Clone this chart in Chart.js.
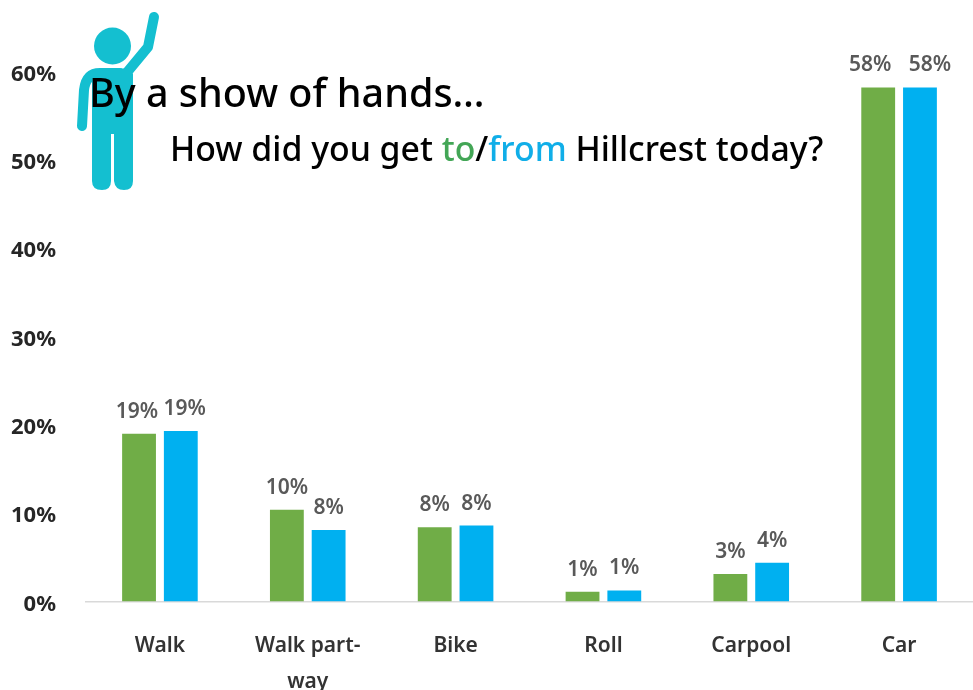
<!DOCTYPE html>
<html><head><meta charset="utf-8">
<style>html,body{margin:0;padding:0;background:#fff}#w{position:relative;width:973px;height:690px;overflow:hidden}</style>
<script src="https://cdn.jsdelivr.net/npm/chart.js@4"></script></head>
<body><div id="w"><canvas id="c" width="973" height="690"></canvas></div>
<script>
const categories=[["Walk"],["Walk part-","way"],["Bike"],["Roll"],["Carpool"],["Car"]];
const toValues=[19.0,10.4,8.4,1.1,3.1,58.2];
const fromValues=[19.3,8.1,8.6,1.25,4.4,58.2];
const toLabels=["19%","10%","8%","1%","3%","58%"];
const fromLabels=["19%","8%","8%","1%","4%","58%"];
const yTicks=[0,10,20,30,40,50,60];
const FONT='"Noto Sans"';

const valueLabels={id:'valueLabels',afterDatasetsDraw(ch){
  const c=ch.ctx;c.save();c.font='600 21px '+FONT;c.fillStyle='#595959';c.textAlign='center';c.textBaseline='middle';
  const last=toLabels.length-1;
  [toLabels,fromLabels].forEach((l,d)=>ch.getDatasetMeta(d).data.forEach((b,i)=>{
    const spread=i===last?(d===0?-8:10):(i===0?(d===0?-2:4):0);
    c.fillText(l[i],b.x+spread,b.y-22);
  }));
  c.restore();
}};
const tickNudge={id:'tickNudge',beforeDraw(ch){
  ch.scales.y.getLabelItems().forEach(it=>{it.options.translation=[it.options.translation[0],it.options.translation[1]+3];});
}};
const figure={id:'figure',afterDraw(ch){
  const c=ch.ctx;c.save();
  c.fillStyle='#14bfd0';c.strokeStyle='#14bfd0';c.lineCap='round';c.lineJoin='round';
  c.beginPath();c.arc(112.5,46,18.5,0,Math.PI*2);c.fill();
  c.lineWidth=10;c.beginPath();c.moveTo(154,17);c.lineTo(148,47);c.lineTo(124,76);c.stroke();
  c.beginPath();c.moveTo(82,126);c.lineTo(84,90);c.quadraticCurveTo(86,73,100,73);c.lineTo(120,73);c.stroke();
  c.beginPath();c.moveTo(92,72);c.lineTo(128,68);c.lineTo(133,74);c.lineTo(133,181);
  c.quadraticCurveTo(133,190,124,190);c.quadraticCurveTo(115,190,114,181);c.lineTo(114,134);c.lineTo(111,134);c.lineTo(111,181);
  c.quadraticCurveTo(111,190,102,190);c.quadraticCurveTo(92,190,92,181);c.closePath();c.fill();
  c.textBaseline='alphabetic';c.textAlign='left';c.fillStyle='#000';
  c.font='500 39.5px '+FONT;c.fillText('By a show of hands…',89,107);
  c.font='500 33.8px '+FONT;
  let x=170;const y=161;
  [['How did you get ','#000'],['to','#43a656'],['/','#000'],['from','#10aee8'],[' Hillcrest today?','#000']].forEach(([t,col])=>{
    c.fillStyle=col;c.fillText(t,x,y);x+=c.measureText(t).width;});
  c.restore();
}};
new Chart(document.getElementById('c'),{
  type:'bar',
  data:{labels:categories,datasets:[
    {label:'To',data:toValues,backgroundColor:'#70ad47',categoryPercentage:.565,barPercentage:.81},
    {label:'From',data:fromValues,backgroundColor:'#00b0f0',categoryPercentage:.565,barPercentage:.81}]},
  options:{responsive:false,animation:false,
    layout:{padding:{top:71.5,left:0,right:0,bottom:0}},
    plugins:{legend:{display:false},title:{display:false},tooltip:{enabled:false}},
    scales:{
      x:{grid:{display:false,drawTicks:false},border:{display:true,color:'#d9d9d9',width:1.5},
         ticks:{color:'#333333',font:{family:FONT,size:21,weight:'600',lineHeight:36/21},padding:27,maxRotation:0,autoSkip:false},
         afterFit(s){s.height=88.5;}},
      y:{min:0,max:60,afterBuildTicks(s){s.ticks=yTicks.map(v=>({value:v}));},
         grid:{display:false,drawTicks:false},border:{display:false},
         ticks:{color:'#262626',font:{family:FONT,size:22,weight:'700'},padding:30,callback:v=>v+'%'},
         afterFit(s){s.width=86;}}
    }},
  plugins:[valueLabels,tickNudge,figure]
});
</script></body></html>
